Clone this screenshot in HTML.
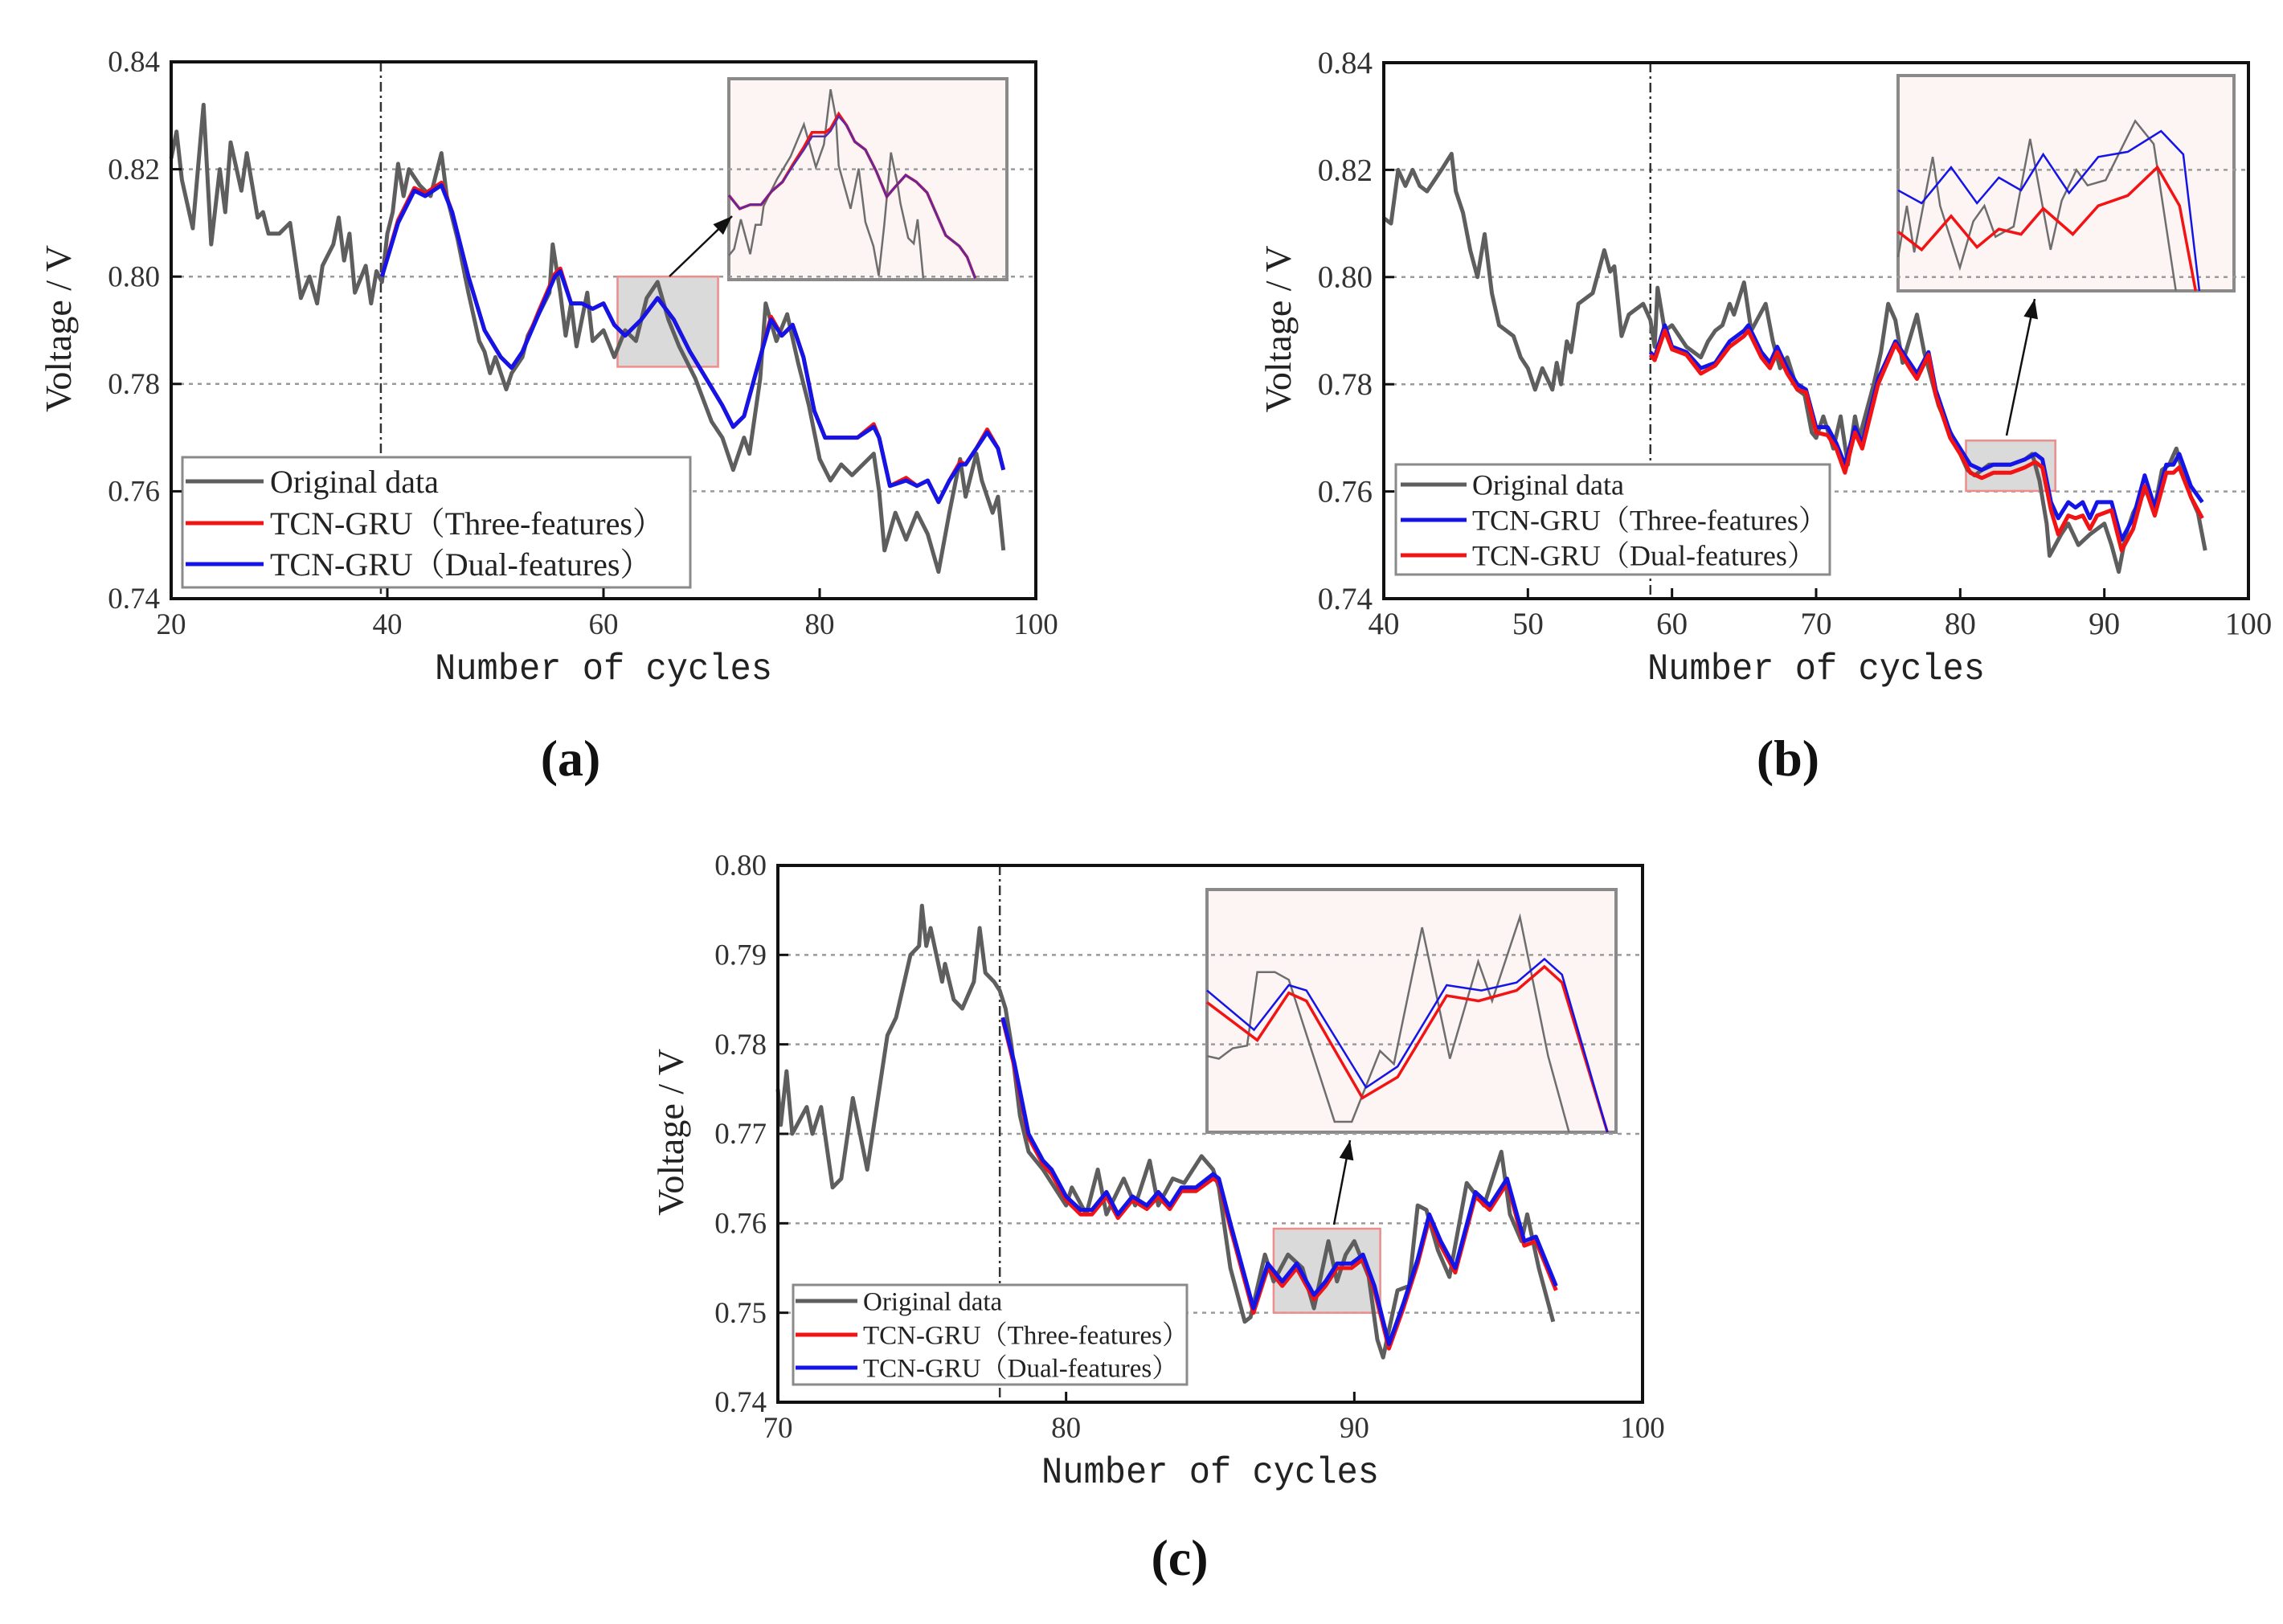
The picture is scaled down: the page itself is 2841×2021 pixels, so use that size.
<!DOCTYPE html>
<html><head><meta charset="utf-8">
<style>
html,body{margin:0;padding:0;background:#fff;}
svg{display:block;}
</style></head>
<body>
<svg id="fig" width="2841" height="2021" viewBox="0 0 2841 2021" xmlns="http://www.w3.org/2000/svg"></svg>
<script>
// ---------- Panel (a) data ----------
const aOrigX=[20,20.5,21,22,23,23.7,24.5,25,25.5,26.5,27,27.5,28,28.5,29,30,31,31.5,32,32.8,33.5,34,35,35.5,36,36.5,37,38,38.5,39,39.5,40,40.5,41,41.5,42,43,44,44.5,45,45.5,46.5,47.5,48.5,49,49.5,50,51,51.5,52.5,53,54,55,55.3,56,56.5,57,57.5,58.5,59,60,61,62,63,64,65,66,67,67.5,68.5,70,71,72,73,73.5,74.5,75,76,77,78,79,80,81,82,83,84,85,85.5,86,87,88,89,90,91,92,93,93.5,94.5,95,96,96.5,97];
const aOrigY=[0.822,0.827,0.818,0.809,0.832,0.806,0.820,0.812,0.825,0.816,0.823,0.817,0.811,0.812,0.808,0.808,0.810,0.803,0.796,0.800,0.795,0.802,0.806,0.811,0.803,0.808,0.797,0.802,0.795,0.801,0.799,0.808,0.812,0.821,0.815,0.820,0.817,0.815,0.819,0.823,0.815,0.807,0.797,0.788,0.786,0.782,0.785,0.779,0.782,0.785,0.789,0.793,0.797,0.806,0.797,0.789,0.795,0.787,0.797,0.788,0.790,0.785,0.790,0.788,0.796,0.799,0.792,0.787,0.785,0.781,0.773,0.770,0.764,0.770,0.767,0.781,0.795,0.788,0.793,0.784,0.776,0.766,0.762,0.765,0.763,0.765,0.767,0.760,0.749,0.756,0.751,0.756,0.752,0.745,0.756,0.766,0.759,0.767,0.762,0.756,0.759,0.749];
const aPredX=[39.5,41,42.5,43.5,45,46,47.5,49,50.5,51.5,52.5,54,55.5,56,57,58,59,60,61,62,63.5,65,66.5,68,69.5,71,72,73,74.5,75.5,76.5,77.5,78.5,79.5,80.5,82,83.5,85,85.5,86.5,88,89,90,91,92,93,93.5,94.5,95.5,96.5,97];
const aBlueY=[0.800,0.810,0.816,0.815,0.817,0.812,0.800,0.790,0.785,0.783,0.786,0.793,0.800,0.801,0.795,0.795,0.794,0.795,0.791,0.789,0.792,0.796,0.792,0.786,0.781,0.776,0.772,0.774,0.785,0.792,0.789,0.791,0.785,0.775,0.770,0.770,0.770,0.772,0.770,0.761,0.762,0.761,0.762,0.758,0.762,0.765,0.765,0.768,0.771,0.768,0.764];
const aRedY=[0.800,0.8105,0.8165,0.8155,0.8175,0.812,0.800,0.790,0.785,0.783,0.786,0.7935,0.8005,0.8015,0.795,0.795,0.794,0.795,0.791,0.789,0.792,0.796,0.792,0.786,0.781,0.776,0.772,0.774,0.785,0.7925,0.789,0.791,0.785,0.775,0.770,0.770,0.770,0.7725,0.770,0.761,0.7625,0.761,0.762,0.758,0.762,0.7655,0.765,0.768,0.7715,0.768,0.764];
// inset (a): values in 0-100 inset units
const aInsX=[0,3.9,7.7,11.6,15.4,19.3,23.1,27,29.9,34.7,36.6,39.5,42.4,45.3,49.1,53,56.8,59.7,63.6,67.4,71.3,75.1,78,82.9,85.7,88.6];
const aInsBlue=[42,35.3,37.3,37.3,44,48.7,56.7,64.7,71.3,71.3,74,81.3,76.7,68.7,64.7,54,41.3,46,52,48.7,43.3,31.3,22,16.7,11.3,0.7];
const aInsRed=[42,35.3,37.3,37.3,44,48.7,57.5,66,73.3,73.3,75.3,82.5,76.7,68.7,64.7,54,41.3,46,52,48.7,43.3,31.3,22,16.7,11.3,0.7];
const aInsGX=[0,1.9,4.3,7.7,9.6,11.6,12.5,17.3,22.2,27,31.3,34.2,36.6,38.5,39.5,43.8,46.7,49.1,52,53.9,55.9,58.3,60.7,61.7,64.5,66.5,67.9,69.9];
const aInsGray=[12,15.3,30,12.7,27.3,27.3,36.7,50,61.3,77.3,56,67.3,94.7,80.7,56.7,35.3,55.3,28.7,16.7,2,27.3,63.3,47.3,38,20.7,18,30,0.7];

// ---------- Panel (b) data ----------
const bOrigX=[40,40.5,41,41.5,42,42.5,43,43.5,44,44.7,45,45.5,46,46.5,47,47.5,48,49,49.5,50,50.5,51,51.7,52,52.3,52.7,53,53.5,54.5,55,55.3,55.7,56,56.5,57,58,58.5,58.8,59,59.5,60,61,62,62.5,63,63.5,64,64.3,65,65.5,66.5,67,67.5,68,68.7,69.2,69.7,70,70.5,71.2,71.7,72.2,72.7,73,74,74.5,75,75.5,76,77,77.5,78.5,79.5,80.5,81,82,83.5,84.5,85,85.5,86,86.2,87,87.5,88.2,89,90,90.5,91,91.5,92,93,93.5,94,94.5,95,95.5,96,96.5,97];
const bOrigY=[0.811,0.810,0.820,0.817,0.820,0.817,0.816,0.818,0.820,0.823,0.816,0.812,0.805,0.800,0.808,0.797,0.791,0.789,0.785,0.783,0.779,0.783,0.779,0.784,0.780,0.788,0.786,0.795,0.797,0.802,0.805,0.801,0.802,0.789,0.793,0.795,0.792,0.787,0.798,0.790,0.791,0.787,0.785,0.788,0.790,0.791,0.795,0.793,0.799,0.790,0.795,0.788,0.783,0.785,0.779,0.778,0.771,0.770,0.774,0.768,0.774,0.765,0.774,0.770,0.780,0.786,0.795,0.792,0.784,0.793,0.786,0.776,0.770,0.764,0.763,0.765,0.765,0.766,0.767,0.762,0.754,0.748,0.752,0.754,0.750,0.752,0.754,0.750,0.745,0.752,0.756,0.761,0.757,0.764,0.765,0.768,0.763,0.759,0.756,0.749];
const bPredX=[58.5,58.8,59.5,60,61,62,63,64,65,65.3,66.2,66.8,67.3,68,68.7,69.3,70,70.8,71.4,72,72.7,73.2,74.3,75.5,76.5,77,77.8,78.3,79.3,80,80.7,81.5,82.3,83.5,84.5,85.2,85.7,86.3,86.8,87.5,88,88.5,89,89.5,90.5,91.2,92,92.8,93.5,94.3,94.8,95.2,96,96.8];
const bBlueY=[0.786,0.785,0.791,0.787,0.786,0.783,0.784,0.788,0.790,0.791,0.786,0.784,0.787,0.783,0.780,0.779,0.772,0.772,0.769,0.765,0.772,0.769,0.781,0.788,0.784,0.782,0.786,0.779,0.771,0.768,0.765,0.764,0.765,0.765,0.766,0.767,0.766,0.758,0.755,0.758,0.757,0.758,0.755,0.758,0.758,0.751,0.755,0.763,0.757,0.765,0.765,0.767,0.761,0.758];
const bRedY=[0.7855,0.7845,0.790,0.7865,0.7855,0.782,0.7835,0.787,0.789,0.790,0.785,0.783,0.786,0.782,0.779,0.7785,0.771,0.7705,0.768,0.7635,0.771,0.768,0.780,0.7875,0.783,0.781,0.7855,0.778,0.770,0.767,0.7635,0.7625,0.7635,0.7635,0.7645,0.7655,0.7645,0.7565,0.752,0.7555,0.755,0.7555,0.753,0.7555,0.7565,0.749,0.753,0.761,0.7555,0.7635,0.7635,0.7645,0.759,0.755];
const bInsBX=[0,7,15.8,23.5,30,36.6,43.2,50.9,59.6,68.4,78.3,84.9,89.7];
const bInsBlue=[46.7,40.7,57.4,40.7,52.6,46.7,63.4,45.5,62.2,64.6,74.2,63.4,0];
const bInsRX=[0,7,15.8,23.5,30,36.6,43.2,52,59.6,68.4,77.2,83.8,88.6];
const bInsRed=[27.5,19.1,34.7,20.3,28.7,26.3,38.3,26.3,39.5,44.3,57.4,39.5,0];
const bInsGX=[0,2.6,4.8,10.3,12.5,18.4,22.4,25.7,29,34.4,39.3,45.4,48.7,53.1,56.4,61.8,70.6,76.1,82.7];
const bInsGray=[15.6,39.5,17.9,62.2,39.5,10.8,32.3,39.5,25.1,29.9,70.6,19.1,41.9,56.2,49,51.4,78.9,68.2,0];

// ---------- Panel (c) data ----------
const cOrigX=[70,70.1,70.3,70.5,71,71.2,71.5,71.9,72.2,72.6,73.1,73.8,74.1,74.6,74.9,75.0,75.15,75.3,75.7,75.8,76.1,76.4,76.8,77.0,77.2,77.5,77.7,77.9,78.1,78.4,78.7,79.2,79.5,80.0,80.2,80.7,81.1,81.4,82.0,82.4,82.9,83.2,83.7,84.1,84.7,85.1,85.3,85.7,86.2,86.4,86.9,87.2,87.7,88.2,88.6,88.8,89.1,89.4,89.7,90.0,90.5,90.8,91.0,91.5,91.9,92.2,92.5,92.9,93.3,93.9,94.5,95.1,95.4,95.8,96.0,96.4,96.9];
const cOrigY=[0.775,0.771,0.777,0.770,0.773,0.770,0.773,0.764,0.765,0.774,0.766,0.781,0.783,0.790,0.791,0.7955,0.791,0.793,0.787,0.789,0.785,0.784,0.787,0.793,0.788,0.787,0.786,0.784,0.780,0.772,0.768,0.766,0.7645,0.762,0.764,0.761,0.766,0.761,0.765,0.762,0.767,0.762,0.765,0.7645,0.7675,0.766,0.764,0.755,0.749,0.7495,0.7565,0.7535,0.7565,0.755,0.7505,0.7535,0.758,0.7535,0.7565,0.758,0.754,0.747,0.745,0.7525,0.753,0.762,0.7615,0.757,0.754,0.7645,0.762,0.768,0.761,0.758,0.761,0.755,0.749];
const cPredX=[77.8,78.2,78.7,79.2,79.5,80.0,80.5,80.9,81.4,81.8,82.3,82.8,83.2,83.6,84.0,84.5,85.1,85.3,85.7,86.5,87.0,87.5,88.0,88.6,89.0,89.4,89.9,90.3,90.7,91.2,91.7,92.2,92.6,93.0,93.5,94.2,94.7,95.3,95.9,96.3,97.0];
const cBlueY=[0.783,0.778,0.770,0.767,0.766,0.763,0.7615,0.7615,0.7635,0.761,0.763,0.762,0.7635,0.762,0.764,0.764,0.7655,0.765,0.760,0.7505,0.7555,0.7535,0.7555,0.752,0.7535,0.7555,0.7555,0.7565,0.753,0.7465,0.751,0.756,0.761,0.758,0.755,0.7635,0.762,0.765,0.758,0.7585,0.753];
const cRedY=[0.7828,0.7776,0.7696,0.7666,0.7655,0.7626,0.761,0.761,0.763,0.7606,0.7626,0.7616,0.763,0.7616,0.7636,0.7636,0.765,0.7646,0.7595,0.750,0.755,0.753,0.755,0.7515,0.753,0.755,0.755,0.756,0.7525,0.746,0.7505,0.7555,0.7605,0.7575,0.7545,0.763,0.7615,0.7645,0.7575,0.758,0.7525];
const cInsBX=[0,11.5,20.0,24.3,38.9,46.6,58.6,67.1,75.7,82.5,86.8,97.9];
const cInsBlue=[58.4,42.2,60.6,58.4,18.4,27.1,60.6,58.4,61.7,71.4,64.9,0];
const cInsRX=[0,12.3,20,24.3,38,46.6,58.6,66.4,75.7,82.5,86.8,97.9];
const cInsRed=[53.5,37.9,57.4,54.1,14.1,22.7,56.3,54.1,58.4,68.2,61.7,0];
const cInsGX=[0,2.9,6.3,9.8,12.3,16.6,20,31.2,35.4,42.3,45.7,52.6,59.4,66.3,69.7,76.5,83.4,88.5];
const cInsGray=[31.4,30.3,34.6,35.7,66,66,62.8,4.3,4.3,33.5,28.1,84.4,30.3,70.3,54.1,88.7,31.4,0];

// tick labels
const aXTicks=[20,40,60,80,100];
const bXTicks=[40,50,60,70,80,90,100];
const cXTicks=[70,80,90,100];
const abYTicks=[0.74,0.76,0.78,0.80,0.82,0.84];
const cYTicks=[0.74,0.75,0.76,0.77,0.78,0.79,0.80];

const NS="http://www.w3.org/2000/svg";
const svg=document.getElementById('fig');
function mk(tag,attrs,parent,text){const e=document.createElementNS(NS,tag);for(const k in attrs)e.setAttribute(k,attrs[k]);if(text!==undefined)e.textContent=text;(parent||svg).appendChild(e);return e;}
const GRAY='#5e5e5e',RED='#f21414',BLUE='#1414e6';
const SERIF='"Liberation Serif","Noto Serif CJK SC",serif';

function drawPanel(P){
  const g=mk('g',{});
  
  
  const sx=v=>P.x0+(v-P.xmin)/(P.xmax-P.xmin)*(P.x1-P.x0);
  const sy=v=>P.y1-(v-P.ymin)/(P.ymax-P.ymin)*(P.y1-P.y0);
  const ix=v=>P.ins.x0+v/100*(P.ins.x1-P.ins.x0);
  const iy=v=>P.ins.y1-v/100*(P.ins.y1-P.ins.y0);
  const path=(xs,ys,fx,fy)=>xs.map((x,i)=>(i?'L':'M')+fx(x).toFixed(1)+' '+fy(ys[i]).toFixed(1)).join(' ');
  const ib=mk('rect',{x:P.ins.x0,y:P.ins.y0,width:P.ins.x1-P.ins.x0,height:P.ins.y1-P.ins.y0,fill:'#fdf4f4',stroke:'#8a8a8a','stroke-width':4},g);
  
  
  P.yt.forEach((t,i)=>{ if(i===0||i===P.yt.length-1) return;
    const l=mk('line',{x1:P.x0,x2:P.x1,y1:sy(t),y2:sy(t),stroke:'#9a9a9a','stroke-width':2.5,'stroke-dasharray':'5 6'},g);
    
    
  });
  const h=mk('rect',{x:sx(P.hl[0]),y:sy(P.hl[3]),width:sx(P.hl[1])-sx(P.hl[0]),height:sy(P.hl[2])-sy(P.hl[3]),fill:'rgba(150,150,150,0.35)',stroke:'#ef8c8c','stroke-width':2.5},g);
  
  
  const vl=mk('line',{x1:sx(P.vx),x2:sx(P.vx),y1:P.y0,y2:P.y1,stroke:'#333','stroke-width':2.5,'stroke-dasharray':'12 5 3 5'},g);
  
  
  const o=mk('path',{d:path(P.ox,P.oy,sx,sy),fill:'none',stroke:GRAY,'stroke-width':5,'stroke-linejoin':'round'},g);
  
  
  P.preds.forEach(s=>{
    const p=mk('path',{d:path(P.px,s.y,sx,sy),fill:'none',stroke:s.c,'stroke-width':5,'stroke-linejoin':'round'},g);
    
    
  });
  const gi=mk('path',{d:path(P.ig.x,P.ig.y,ix,iy),fill:'none',stroke:'#6e6e6e','stroke-width':2.5},g);
  
  
  P.ip.forEach(s=>{
    const p=mk('path',{d:path(s.x,s.y,ix,iy),fill:'none',stroke:s.c,'stroke-width':s.w||2.5},g);
    
    
  });
  const a=P.arrow;
  const ar=mk('line',{x1:a[0],y1:a[1],x2:a[2],y2:a[3],stroke:'#111','stroke-width':2.5},g);
  
  
  const ang=Math.atan2(a[3]-a[1],a[2]-a[0]);const L=24,W=9;
  const bx=a[2]-L*Math.cos(ang),by=a[3]-L*Math.sin(ang);
  const ah=mk('polygon',{points:`${a[2]},${a[3]} ${bx-W*Math.sin(ang)},${by+W*Math.cos(ang)} ${bx+W*Math.sin(ang)},${by-W*Math.cos(ang)}`,fill:'#111'},g);
  
  
  const Lg=P.leg;
  const lg=mk('g',{},g);
  
  
  mk('rect',{x:Lg.x0,y:Lg.y0,width:Lg.x1-Lg.x0,height:Lg.y1-Lg.y0,fill:'#fff',stroke:'#8a8a8a','stroke-width':3},lg);
  Lg.items.forEach((it,i)=>{
    const e=mk('g',{},lg);
    
    
    mk('line',{x1:Lg.lx0,x2:Lg.lx1,y1:Lg.ys[i],y2:Lg.ys[i],stroke:it.c,'stroke-width':5},e);
    mk('text',{x:Lg.tx,y:Lg.ys[i]+Lg.fs*0.35,'font-family':SERIF,'font-size':Lg.fs,fill:'#222'},e,it.t);
  });
  const fr=mk('rect',{x:P.x0,y:P.y0,width:P.x1-P.x0,height:P.y1-P.y0,fill:'none',stroke:'#111','stroke-width':4},g);
  
  
  P.xt.forEach(t=>{
    mk('line',{x1:sx(t),x2:sx(t),y1:P.y1,y2:P.y1-13,stroke:'#111','stroke-width':3},g);
    const tl=mk('text',{x:sx(t),y:P.y1+44,'text-anchor':'middle','font-family':SERIF,'font-size':P.tfs,fill:'#333'},g,String(t));
    
    
  });
  P.yt.forEach(t=>{
    mk('line',{x1:P.x0,x2:P.x0+13,y1:sy(t),y2:sy(t),stroke:'#111','stroke-width':3},g);
    const tl=mk('text',{x:P.x0-14,y:sy(t)+P.tfs*0.33,'text-anchor':'end','font-family':SERIF,'font-size':P.tfs,fill:'#333'},g,t.toFixed(2));
    
    
  });
  const xt=mk('text',{x:(P.x0+P.x1)/2,y:P.y1+100,'text-anchor':'middle','font-family':'"Liberation Mono",monospace','font-size':46,fill:'#222',textLength:420,lengthAdjust:'spacingAndGlyphs'},g,'Number of cycles');
  
  
  const yt=mk('text',{x:0,y:0,transform:`translate(${P.ytx},${(P.y0+P.y1)/2-2}) rotate(-90)`,'text-anchor':'middle','font-family':SERIF,'font-size':46,fill:'#222'},g,'Voltage / V');
  
  
  const pl=mk('text',{x:P.lab[0],y:P.lab[1],'text-anchor':'middle','font-family':SERIF,'font-size':64,'font-weight':'bold',fill:'#111'},g,'('+P.id+')');
  
  
}

drawPanel({id:'a',x0:213,x1:1289,y0:77,y1:745,xmin:20,xmax:100,ymin:0.74,ymax:0.84,xt:aXTicks,yt:abYTicks,tfs:37,ytx:88,
  ox:aOrigX,oy:aOrigY,px:aPredX,
  preds:[{y:aRedY,c:RED,name:'three-features-line'},{y:aBlueY,c:BLUE,name:'dual-features-line'}],
  vx:39.4,hl:[61.3,70.6,0.7832,0.800],
  ins:{x0:907,x1:1253,y0:98,y1:348},
  ig:{x:aInsGX,y:aInsGray},
  ip:[{x:aInsX,y:aInsRed,c:RED,name:'three-features-line',w:3.5},{x:aInsX,y:aInsBlue,c:'#5a2aa8',name:'dual-features-line',w:2.5}],
  arrow:[833,344,911,269],
  leg:{x0:227,x1:859,y0:569,y1:731,lx0:231,lx1:328,tx:336,fs:40,ys:[599,651,702],
    items:[{c:GRAY,t:'Original data'},{c:RED,t:'TCN-GRU（Three-features）'},{c:BLUE,t:'TCN-GRU（Dual-features）'}]},
  lab:[710,965]});

drawPanel({id:'b',x0:1722,x1:2798,y0:78,y1:745,xmin:40,xmax:100,ymin:0.74,ymax:0.84,xt:bXTicks,yt:abYTicks,tfs:39,ytx:1606,
  ox:bOrigX,oy:bOrigY,px:bPredX,
  preds:[{y:bBlueY,c:BLUE,name:'three-features-line'},{y:bRedY,c:RED,name:'dual-features-line'}],
  vx:58.5,hl:[80.4,86.6,0.7601,0.7695],
  ins:{x0:2362,x1:2780,y0:94,y1:362},
  ig:{x:bInsGX,y:bInsGray},
  ip:[{x:bInsBX,y:bInsBlue,c:BLUE,name:'three-features-line'},{x:bInsRX,y:bInsRed,c:RED,name:'dual-features-line',w:3.5}],
  arrow:[2497,542,2532,372],
  leg:{x0:1737,x1:2277,y0:578,y1:715,lx0:1743,lx1:1825,tx:1832,fs:36,ys:[603,647,691],
    items:[{c:GRAY,t:'Original data'},{c:BLUE,t:'TCN-GRU（Three-features）'},{c:RED,t:'TCN-GRU（Dual-features）'}]},
  lab:[2225,965]});

drawPanel({id:'c',x0:968,x1:2044,y0:1077,y1:1745,xmin:70,xmax:100,ymin:0.74,ymax:0.80,xt:cXTicks,yt:cYTicks,tfs:37,ytx:850,
  ox:cOrigX,oy:cOrigY,px:cPredX,
  preds:[{y:cRedY,c:RED,name:'three-features-line'},{y:cBlueY,c:BLUE,name:'dual-features-line'}],
  vx:77.7,hl:[87.2,90.9,0.750,0.7594],
  ins:{x0:1502,x1:2011,y0:1107,y1:1409},
  ig:{x:cInsGX,y:cInsGray},
  ip:[{x:cInsRX,y:cInsRed,c:RED,name:'three-features-line',w:3.5},{x:cInsBX,y:cInsBlue,c:BLUE,name:'dual-features-line'}],
  arrow:[1660,1524,1680,1419],
  leg:{x0:987,x1:1477,y0:1599,y1:1723,lx0:990,lx1:1067,tx:1074,fs:33,ys:[1619,1661,1702],
    items:[{c:GRAY,t:'Original data'},{c:RED,t:'TCN-GRU（Three-features）'},{c:BLUE,t:'TCN-GRU（Dual-features）'}]},
  lab:[1468,1960]});
</script>
</body></html>
